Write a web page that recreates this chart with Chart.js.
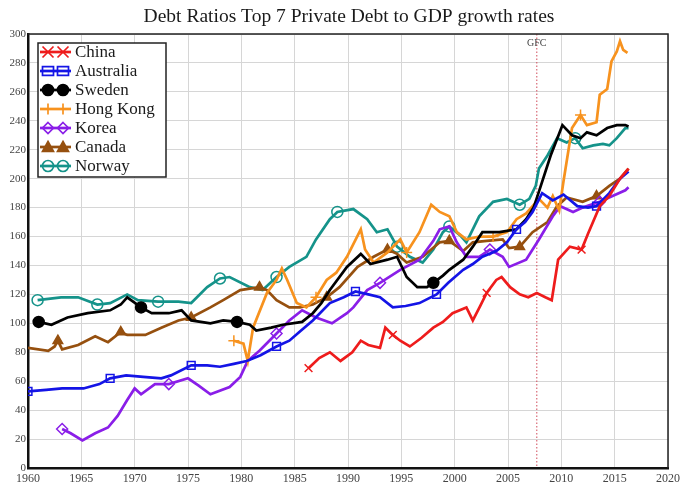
<!DOCTYPE html>
<html>
<head>
<meta charset="utf-8">
<script src="https://cdn.jsdelivr.net/npm/chart.js@4.4.0/dist/chart.umd.min.js"></script>
<style>
  html, body { margin: 0; padding: 0; background: #fff; }
  #wrap { width: 690px; height: 500px; }
</style>
</head>
<body>
<div id="wrap"><canvas id="debtChart" width="690" height="500"></canvas></div>
<script>
// datos (deuda privada / PIB, %)
const chartTitle = "Debt Ratios Top 7 Private Debt to GDP growth rates";
const gfcYear = 2007.7;
const gfcLabel = "GFC";

const chinaYears = [1986.3, 1987.3, 1988.3, 1989.3, 1990.4, 1991.2, 1991.9, 1993.0, 1993.5, 1994.2, 1994.9, 1995.8, 1996.9, 1998.0, 1998.9, 1999.8, 2001.1, 2001.7, 2002.4, 2003.0, 2003.9, 2004.4, 2005.2, 2006.1, 2006.9, 2007.7, 2008.5, 2009.1, 2009.7, 2010.8, 2011.9, 2012.5, 2013.6, 2014.5, 2015.5, 2016.3];
const chinaValues = [69, 76, 80, 74, 80, 88, 85, 83, 97, 92, 88, 84, 90, 97, 101, 107, 111, 102, 112, 121, 130, 132, 125, 120, 118, 121, 118, 116, 144, 153, 151, 162, 181, 188, 200, 207];
const chinaMarks = [1986.3, 1994.2, 2003.0, 2011.9];

const australiaYears = [1960, 1961.7, 1963.2, 1965.2, 1966.7, 1967.7, 1969.2, 1970.8, 1972.5, 1973.4, 1975.3, 1976.8, 1978.0, 1979.3, 1980.5, 1981.8, 1983.3, 1984.5, 1985.6, 1986.7, 1988.3, 1989.6, 1990.7, 1991.9, 1993.0, 1994.2, 1995.4, 1996.7, 1998.3, 1999.4, 2000.8, 2001.7, 2002.6, 2003.9, 2004.9, 2005.8, 2006.6, 2007.3, 2008.2, 2009.2, 2010.2, 2011.5, 2012.5, 2013.3, 2014.5, 2015.5, 2016.3];
const australiaValues = [53, 54, 55, 55, 58, 62, 64, 63, 62, 64, 71, 71, 70, 72, 74, 78, 84, 88, 95, 102, 114, 118, 122, 120, 118, 111, 112, 114, 120, 128, 137, 141, 146, 150, 156, 165, 170, 177, 190, 185, 189, 181, 180, 181, 190, 200, 205];
const australiaMarks = [1960, 1967.7, 1975.3, 1983.3, 1990.7, 1998.3, 2005.8, 2013.3];

const swedenYears = [1961.0, 1962.2, 1963.7, 1965.6, 1967.7, 1968.7, 1969.3, 1970.6, 1971.6, 1973.2, 1974.4, 1975.3, 1977.1, 1978.3, 1979.6, 1980.8, 1981.4, 1982.8, 1983.9, 1985.7, 1986.7, 1987.5, 1988.3, 1989.9, 1991.2, 1992.1, 1993.7, 1994.6, 1995.5, 1996.5, 1997.4, 1998.0, 1998.9, 1999.5, 2000.8, 2001.7, 2002.6, 2004.2, 2005.8, 2006.7, 2007.4, 2007.9, 2009.0, 2010.1, 2011.0, 2011.8, 2012.4, 2013.3, 2014.3, 2015.2, 2016.0, 2016.3];
const swedenValues = [101, 99, 104, 107, 109, 113, 118, 111, 107, 107, 109, 102, 100, 102, 101, 99, 95, 97, 99, 101, 107, 114, 123, 139, 148, 141, 144, 146, 132, 125, 125, 128, 133, 137, 144, 153, 163, 163, 165, 172, 180, 191, 216, 237, 230, 228, 232, 230, 235, 237, 237, 236];
const swedenMarks = [1961.0, 1970.6, 1979.6, 1998.0];

const hongKongYears = [1979.3, 1980.2, 1980.6, 1981.1, 1982.4, 1983.3, 1983.8, 1984.3, 1985.2, 1986.1, 1987.0, 1988.0, 1988.9, 1989.9, 1991.2, 1991.6, 1992.4, 1993.7, 1994.9, 1995.5, 1996.7, 1997.8, 1998.6, 1999.5, 2000.2, 2001.1, 2002.3, 2003.6, 2004.9, 2005.8, 2006.7, 2007.9, 2008.7, 2009.2, 2009.8, 2010.2, 2011.0, 2011.8, 2012.4, 2013.3, 2013.6, 2014.3, 2014.7, 2015.2, 2015.5, 2015.8, 2016.2];
const hongKongValues = [88, 86, 74, 97, 121, 130, 138, 130, 114, 111, 118, 130, 135, 146, 165, 151, 142, 149, 158, 149, 163, 182, 177, 174, 163, 158, 160, 160, 163, 172, 176, 186, 180, 188, 178, 198, 235, 244, 237, 239, 258, 262, 281, 288, 295, 289, 287];
const hongKongMarks = [1979.3, 1987.0, 1995.5, 2003.6, 2011.8];

const koreaYears = [1963.2, 1964.0, 1965.1, 1966.3, 1967.5, 1968.4, 1969.3, 1970.0, 1970.6, 1971.9, 1973.2, 1975.0, 1976.0, 1977.1, 1978.9, 1979.9, 1980.6, 1981.7, 1983.3, 1984.5, 1985.7, 1987.0, 1988.5, 1989.9, 1990.5, 1991.8, 1993.0, 1994.9, 1996.7, 1998.0, 1998.6, 1999.5, 2000.2, 2001.1, 2002.3, 2003.3, 2004.5, 2005.1, 2006.7, 2007.9, 2009.2, 2009.9, 2011.1, 2012.0, 2013.6, 2014.8, 2016.0, 2016.3];
const koreaValues = [27, 24, 19, 24, 28, 36, 47, 55, 51, 58, 58, 62, 57, 51, 56, 63, 74, 81, 93, 102, 109, 104, 100, 107, 111, 123, 128, 137, 144, 157, 165, 167, 156, 146, 146, 151, 146, 139, 144, 158, 174, 181, 177, 180, 184, 188, 192, 194];
const koreaMarks = [1963.2, 1973.2, 1983.3, 1993.0, 2003.3, 2013.6];

const canadaYears = [1960, 1961.9, 1962.5, 1962.8, 1963.2, 1964.7, 1966.3, 1967.5, 1968.7, 1969.3, 1971.0, 1972.5, 1974.1, 1975.3, 1977.1, 1978.3, 1979.9, 1981.7, 1982.4, 1983.3, 1984.5, 1985.5, 1986.7, 1988.0, 1989.2, 1990.9, 1992.4, 1993.7, 1994.6, 1995.5, 1997.0, 1998.6, 1999.5, 2000.8, 2001.7, 2003.0, 2004.5, 2005.1, 2006.1, 2007.3, 2008.7, 2009.6, 2010.5, 2012.0, 2013.3, 2014.5, 2015.5, 2016.3];
const canadaValues = [83, 81, 84, 88, 82, 85, 91, 87, 94, 92, 92, 97, 102, 104, 111, 116, 123, 125, 123, 116, 111, 111, 113, 118, 125, 139, 146, 151, 148, 142, 146, 156, 157, 150, 156, 157, 158, 152, 153, 163, 170, 181, 187, 184, 188, 195, 200, 207];
const canadaMarks = [1962.8, 1968.7, 1975.3, 1981.7, 1988.0, 1993.7, 1999.5, 2006.1, 2013.3];

const norwayYears = [1960.9, 1963.1, 1964.7, 1966.5, 1967.7, 1969.3, 1970.3, 1972.2, 1974.1, 1975.3, 1976.8, 1978.0, 1978.9, 1980.8, 1982.0, 1983.3, 1984.5, 1986.1, 1987.0, 1988.3, 1989.0, 1990.5, 1991.8, 1992.7, 1993.7, 1994.6, 1995.8, 1997.0, 1998.0, 1998.9, 1999.5, 2000.5, 2001.1, 2002.3, 2003.6, 2004.9, 2006.1, 2007.0, 2007.6, 2007.9, 2008.7, 2009.6, 2010.5, 2011.3, 2012.0, 2013.0, 2013.9, 2014.5, 2015.2, 2016.0, 2016.3];
const norwayValues = [116, 118, 118, 113, 114, 120, 116, 115, 115, 114, 125, 131, 132, 125, 123, 132, 139, 146, 158, 172, 177, 179, 172, 163, 165, 153, 146, 142, 151, 163, 167, 161, 156, 174, 184, 186, 182, 186, 195, 207, 216, 228, 225, 228, 221, 223, 224, 223, 228, 235, 235];
const norwayMarks = [1960.9, 1966.5, 1972.2, 1978.0, 1983.3, 1989.0, 1994.6, 1999.5, 2006.1, 2011.3];

const serif = '"Liberation Serif", "DejaVu Serif", serif';

// arma un dataset con marcadores solo en los anios indicados
function makeSeries(label, years, values, color, style, marks, filled) {
    return {
        label,
        data: years.map((y, i) => ({ x: y, y: values[i] })),
        borderColor: color,
        borderWidth: 2.7,
        tension: 0,
        pointStyle: style,
        pointRadius: ctx => (ctx.raw && marks.includes(ctx.raw.x)) ? 5.5 : 0,
        pointHoverRadius: 0,
        pointBorderColor: color,
        pointBackgroundColor: filled ? color : "rgba(0,0,0,0)",
        pointBorderWidth: 1.5,
        filledMark: filled,
    };
}

const datasets = [
    makeSeries("China", chinaYears, chinaValues, "#ee1c1c", "crossRot", chinaMarks, false),
    makeSeries("Australia", australiaYears, australiaValues, "#1414e6", "rect", australiaMarks, false),
    makeSeries("Sweden", swedenYears, swedenValues, "#000000", "circle", swedenMarks, true),
    makeSeries("Hong Kong", hongKongYears, hongKongValues, "#f7921e", "cross", hongKongMarks, false),
    makeSeries("Korea", koreaYears, koreaValues, "#8a1ee8", "rectRot", koreaMarks, false),
    makeSeries("Canada", canadaYears, canadaValues, "#96500f", "triangle", canadaMarks, true),
    makeSeries("Norway", norwayYears, norwayValues, "#15938a", "circle", norwayMarks, false),
];

// dibuja un marcador para la leyenda
function drawMark(ctx, style, x, y, r, color, filled) {
    ctx.save();
    ctx.strokeStyle = color;
    ctx.fillStyle = color;
    ctx.lineWidth = 1.7;
    ctx.beginPath();
    if (style === "circle") {
        ctx.arc(x, y, r, 0, Math.PI * 2);
    } else if (style === "rect") {
        ctx.rect(x - r, y - r * 0.8, r * 2, r * 1.6);
    } else if (style === "rectRot") {
        ctx.moveTo(x, y - r); ctx.lineTo(x + r, y); ctx.lineTo(x, y + r); ctx.lineTo(x - r, y); ctx.closePath();
    } else if (style === "triangle") {
        ctx.moveTo(x, y - r); ctx.lineTo(x + r, y + r * 0.8); ctx.lineTo(x - r, y + r * 0.8); ctx.closePath();
    } else if (style === "cross") {
        ctx.moveTo(x - r, y); ctx.lineTo(x + r, y); ctx.moveTo(x, y - r); ctx.lineTo(x, y + r);
    } else if (style === "crossRot") {
        ctx.moveTo(x - r, y - r); ctx.lineTo(x + r, y + r); ctx.moveTo(x + r, y - r); ctx.lineTo(x - r, y + r);
    }
    if (filled) ctx.fill();
    ctx.stroke();
    ctx.restore();
}

const decorPlugin = {
    id: "decor",
    beforeDatasetsDraw(chart) {
        // linea punteada de la crisis
        const { ctx, chartArea, scales } = chart;
        const gx = scales.x.getPixelForValue(gfcYear);
        ctx.save();
        ctx.strokeStyle = "#d04a5a";
        ctx.lineWidth = 1;
        ctx.setLineDash([1.5, 2]);
        ctx.beginPath();
        ctx.moveTo(gx, chartArea.top);
        ctx.lineTo(gx, chartArea.bottom);
        ctx.stroke();
        ctx.restore();
    },
    afterDraw(chart) {
        const { ctx, chartArea, scales } = chart;
        ctx.save();
        // marco superior y derecho
        ctx.strokeStyle = "#222";
        ctx.lineWidth = 1.5;
        ctx.beginPath();
        ctx.moveTo(chartArea.left, chartArea.top);
        ctx.lineTo(chartArea.right, chartArea.top);
        ctx.lineTo(chartArea.right, chartArea.bottom);
        ctx.stroke();

        // titulo
        ctx.fillStyle = "#1a1a1a";
        ctx.font = "19.5px " + serif;
        ctx.textAlign = "center";
        ctx.textBaseline = "middle";
        ctx.fillText(chartTitle, 349, 17);

        // etiqueta GFC
        const gx = scales.x.getPixelForValue(gfcYear);
        ctx.fillStyle = "#444";
        ctx.font = "10px " + serif;
        ctx.fillText(gfcLabel, gx, chartArea.top + 9);

        // leyenda
        const bx = 38, by = 43, bw = 128, bh = 134;
        ctx.fillStyle = "#fff";
        ctx.fillRect(bx, by, bw, bh);
        ctx.strokeStyle = "#222";
        ctx.lineWidth = 1.5;
        ctx.strokeRect(bx, by, bw, bh);
        ctx.font = "17px " + serif;
        ctx.textAlign = "left";
        chart.data.datasets.forEach((ds, i) => {
            const cy = by + 9 + i * 19;
            ctx.strokeStyle = ds.borderColor;
            ctx.lineWidth = 2.7;
            ctx.beginPath();
            ctx.moveTo(bx + 2, cy);
            ctx.lineTo(bx + 33, cy);
            ctx.stroke();
            drawMark(ctx, ds.pointStyle, bx + 10, cy, 5.5, ds.borderColor, ds.filledMark);
            drawMark(ctx, ds.pointStyle, bx + 25, cy, 5.5, ds.borderColor, ds.filledMark);
            ctx.fillStyle = "#1a1a1a";
            ctx.fillText(ds.label, bx + 37, cy + 1);
        });
        ctx.restore();
    }
};

new Chart(document.getElementById("debtChart"), {
    type: "line",
    data: { datasets },
    options: {
        responsive: false,
        animation: false,
        devicePixelRatio: 1,
        layout: { padding: { top: 34, right: 22, bottom: 0, left: 0 } },
        plugins: {
            legend: { display: false },
            title: { display: false },
            tooltip: { enabled: false },
        },
        scales: {
            x: {
                type: "linear",
                min: 1960,
                max: 2020,
                afterFit: s => { s.height = 32; },
                grid: { color: "#d6d6d6", lineWidth: 1, drawTicks: false },
                border: { color: "#111", width: 2.5 },
                ticks: {
                    stepSize: 5,
                    maxRotation: 0,
                    padding: 4,
                    color: "#444",
                    font: { family: serif, size: 12 },
                    callback: v => String(v),
                },
            },
            y: {
                min: 0,
                max: 300,
                afterFit: s => { s.width = 28; },
                grid: { color: "#d6d6d6", lineWidth: 1, drawTicks: false },
                border: { color: "#111", width: 2.5 },
                ticks: {
                    stepSize: 20,
                    padding: 2,
                    color: "#444",
                    font: { family: serif, size: 11 },
                    callback: v => String(v),
                },
            },
        },
    },
    plugins: [decorPlugin],
});
</script>
</body>
</html>
